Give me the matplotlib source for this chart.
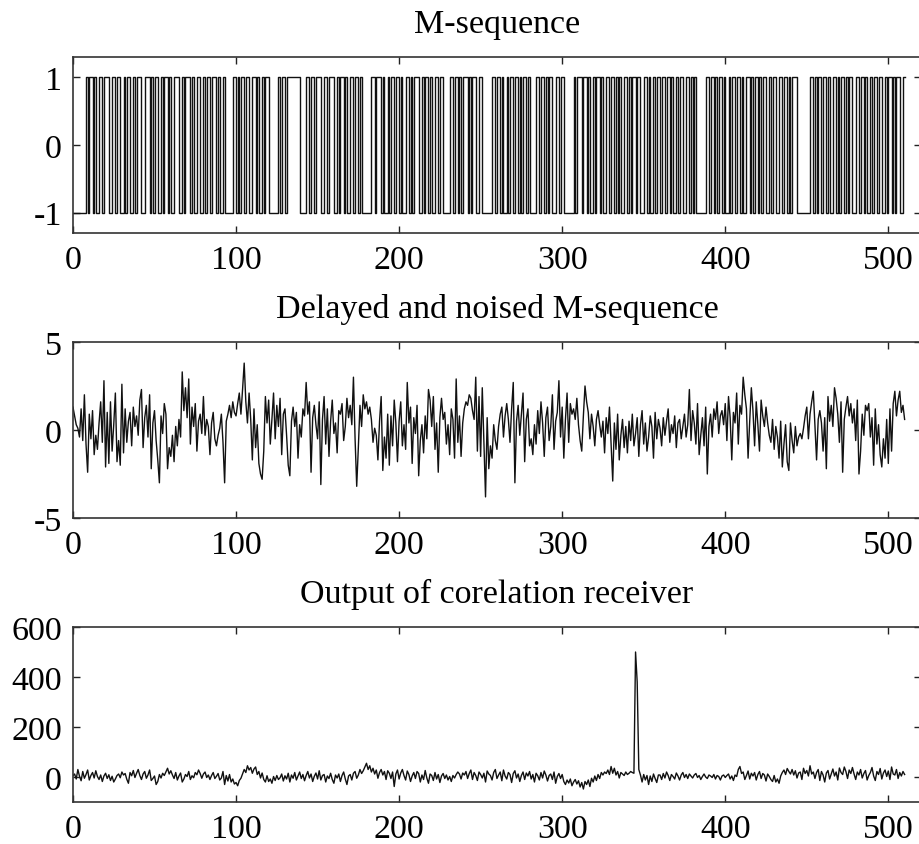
import matplotlib
matplotlib.use("Agg")
import matplotlib.pyplot as plt

# chip pattern of the M-sequence ("1" -> +1, "0" -> -1)
MSEQ_BITS = (
    "0000000010" "1101001101" "1100110110" "0101100101" "1100111010"
    "1100101101" "0011100101" "1101001100" "1011011101" "0010000011"
    "0101101100" "1101001011" "0000001011" "0111111110" "0001101101"
    "1100110111" "0010110100" "1101101000" "0001101110" "1001011011"
    "0100110101" "1100101101" "0011011000" "0110110101" "1101011001"
    "1000000110" "1101001011" "0110101101" "0000110110" "1011001101"
    "1000000101" "1101101001" "0110100110" "1101010011" "0101101100"
    "1101001011" "0110110100" "1011001101" "0100000011" "0110101101"
    "0010110110" "1001101011" "0101100101" "1001101101" "0111000000"
    "0011010110" "1101001101" "0110101100" "1101101001" "0110110010"
    "11010110011"
)

noised = [
    1.3, 0.8, 0.3, 0.1, -0.4, 1.2, -0.6, 2.0, -0.8, -2.4, 0.9, -0.5, 1.1, -1.4, -0.3, -1.1, 0.4, 1.6, -0.7, 2.8,
    -2.1, 1.0, -1.9, 1.6, -1.2, 0.3, 2.1, -1.8, -0.6, -2.0, 2.6, -1.3, 1.2, -0.7, 0.5, 1.0, -0.9, 1.3, 0.2, 0.8,
    -0.3, 1.7, 2.3, -1.0, 0.7, 1.4, -0.4, 2.0, -2.2, 0.4, 1.1, -0.6, -1.7, -3.0, 0.8, -0.2, 1.5, 0.9, -2.2, -1.0,
    -1.5, -0.3, -1.8, 0.2, -0.9, 0.6, -0.4, 3.3, 1.1, 2.4, 0.7, 2.9, -0.8, 1.3, 0.2, 1.5, -1.2, 0.5, 0.9, -0.2,
    1.9, -0.3, 0.6, 0.2, -1.4, 0.4, 1.0, -0.5, -0.9, -0.3, 0.1, 0.9, -0.7, -3.0, 0.5, 0.9, 1.4, 0.7, 1.6, 1.0,
    0.8, 1.5, 2.1, 0.9, 2.3, 3.8, 1.6, 0.4, 2.1, 0.6, -1.7, 1.2, -1.0, 0.3, -1.9, -2.5, -2.8, -1.2, 1.9, 0.4,
    1.7, -0.8, 0.6, 2.1, -0.5, 1.4, 0.2, 1.8, -1.4, 0.9, 1.2, -0.3, -2.0, -2.6, 0.5, 1.3, 0.2, 1.0, -1.6, 0.3,
    -0.4, 1.2, 0.8, 2.7, 0.9, 1.6, -2.4, 0.7, 1.4, 0.3, -0.5, 1.6, -3.1, 0.6, 1.9, -0.8, 1.2, -1.5, 0.5, 1.7,
    -0.2, 0.4, -1.3, 1.1, 0.9, 1.5, -0.6, 0.2, 1.8, 0.7, 1.4, 0.3, 3.0, -0.5, -3.2, -1.0, 1.4, 0.2, 2.0, 1.2,
    1.6, 0.9, 1.3, 0.6, -0.7, 0.1, -0.3, -1.7, 0.5, 1.9, -2.3, -0.4, -1.6, 0.9, -2.0, 0.8, -0.9, 1.7, 0.4, -1.8,
    0.5, 1.6, -0.9, 0.3, -1.1, 2.7, 0.4, 1.3, -1.9, 0.7, -0.2, 1.4, -2.6, -0.6, 0.3, -1.3, 0.8, -0.5, 2.3, 1.7,
    0.2, 1.9, -1.1, 0.4, -2.4, 0.7, 1.8, 0.6, 1.0, -0.8, 0.3, -1.4, 1.2, 0.6, -1.6, 2.9, -0.7, 0.8, -1.5, 0.4,
    1.2, 1.6, 1.4, 2.0, 1.8, 1.1, 0.6, 3.0, -1.2, 1.9, -1.5, 2.4, -0.8, -3.8, 0.7, -2.2, -0.9, -1.6, 0.3, -0.6,
    -1.1, 0.2, 0.9, 1.3, -0.4, 0.8, 1.5, 0.6, -0.7, 1.2, 2.7, -3.0, 0.5, 1.4, -0.3, 0.9, 2.1, -1.8, 0.6, 1.2,
    -0.9, -0.5, -1.4, 0.3, -0.8, 1.1, -0.2, 1.6, 0.4, -1.5, 0.7, 1.3, -0.6, 0.2, 2.0, -1.1, 0.5, 1.0, 2.8, -0.4,
    1.3, -1.6, 0.6, 2.1, -0.7, 1.5, 0.9, 1.2, 0.6, 1.8, 0.3, -0.6, -1.2, 0.8, 2.5, 1.6, 1.0, -0.5, 0.9, 0.2,
    -0.9, 0.6, 1.1, 0.3, -0.4, 0.5, -1.3, 0.7, -0.2, 1.3, -0.8, -2.9, 0.4, -1.1, 0.9, -1.7, -0.3, 0.6, -1.0, 0.2,
    -1.3, 0.5, -0.6, 0.9, -0.9, -0.2, 0.7, -1.5, 0.3, 1.1, -0.8, 0.4, -1.2, -0.4, 0.8, 0.2, -1.6, 1.0, -0.5, 0.6,
    0.1, -0.9, 0.7, -0.3, 0.5, 1.2, -0.7, 0.3, -0.2, 0.8, -1.0, 0.4, 0.6, -0.5, 0.2, 0.9, -0.4, 0.3, 2.3, -0.6,
    1.1, 0.4, -0.8, 1.5, -1.4, -0.3, 0.7, -0.9, 1.3, -2.5, 0.2, 0.9, -0.4, 1.2, 0.6, 1.6, -0.2, 0.8, 1.1, 0.3,
    1.5, -0.6, 1.9, 0.7, -1.7, 1.0, 0.4, 2.1, -0.8, 1.4, 0.9, 3.0, 2.0, 1.2, -1.6, 0.5, 2.4, 1.1, -0.9, 1.6,
    0.3, -1.2, 1.7, 0.8, 0.2, 1.3, 0.4, -0.3, -0.7, 0.6, -1.1, 0.2, -0.4, -1.6, 0.5, -2.1, -0.8, 0.3, -1.8, -2.3,
    0.4, -0.6, -1.3, 0.2, -0.9, -0.4, -0.2, -0.5, 0.1, 0.8, 1.3, -0.5, 0.9, 1.6, 2.2, 0.3, -1.7, 0.6, 1.1, 0.4,
    -1.2, 0.7, -2.2, 1.9, 0.5, 1.4, 0.2, 2.4, 1.8, 0.9, -0.7, 1.6, -2.4, 0.6, 1.3, 1.9, 0.8, 1.5, 0.4, 1.2,
    -0.6, 1.7, -2.5, -1.2, 0.9, -0.3, 1.4, 1.1, 1.5, -0.4, 0.7, -2.0, 1.2, -0.8, 0.3, -1.4, -2.1, -0.5, -1.6, 0.6,
    -1.9, 1.2, -1.2, 1.5, 2.2, 0.8, 1.7, 2.2, 1.0, 1.4, 0.6,
]

correlation = [
    5, 12, -8, 30, 3, -15, 22, -5, 10, 28, -12, 6, 18, -4, 25, 2, -10, 8, -18, 4,
    15, -6, 9, -14, 3, -20, -8, 6, 12, -3, 20, 8, 14, -9, -25, 18, 5, 26, -2, 15,
    30, 6, -10, 12, 22, -5, 8, 28, -14, -6, 4, -30, -18, 10, -4, 15, 6, 20, 35, 12,
    25, 8, -6, 18, -12, 4, 16, -20, -8, 10, 2, 22, -10, 5, -3, 18, 9, 28, 14, -5,
    12, 20, -2, 8, -10, 6, 18, -6, 3, 14, -12, -4, 22, -30, 6, -16, 10, -20, -8, -28,
    -22, -35, -14, -5, 12, 30, 18, 45, 28, 38, 15, 32, 40, 10, 22, -4, 16, -10, -20, 5,
    -18, -8, -25, 2, -14, 6, -10, -3, 12, -16, 5, -8, 15, -20, 8, -5, 18, -12, 4, 20,
    -6, 10, -15, 6, 22, -4, 12, -18, 3, 16, -8, 25, -12, 6, 10, -20, 4, -6, 15, -10,
    -25, 8, -4, 12, -18, 6, 20, -8, -30, 4, 10, -12, 15, 22, -5, 8, 30, 14, 25, 40,
    55, 30, 45, 20, 35, 12, 28, -5, 18, 30, 8, 22, -10, 25, 15, -6, 20, -38, 12, 28,
    -8, 16, 30, 6, -12, 24, 10, -18, 4, 18, -6, 22, 14, -20, 8, -10, 26, -4, -25, 12,
    6, -14, 18, -8, 10, -22, 4, 14, -6, 8, -12, 2, -18, 6, -4, 10, 20, 12, -8, 16,
    8, 22, -6, 14, 28, -10, 18, 6, -14, 20, 10, -4, 15, -20, 24, 12, 6, -12, 18, 30,
    -6, 8, 20, -15, 28, 4, -8, 18, 10, -22, 14, 25, -4, 12, -18, 6, 20, -10, 16, 4,
    22, -8, 10, -20, 15, 5, -12, 18, -4, 24, 8, -16, 6, 12, -10, 20, -25, 2, 14, -6,
    10, -18, -30, -12, -24, -8, -35, -20, -10, -28, -15, -40, -22, -48, -18, -30, -12, -38, -5, -20,
    4, -14, 10, -6, 18, 8, 20, 14, 28, 10, 42, 15, 35, 8, 22, -4, 18, 12, 6, 20,
    10, 15, 22, 18, 15, 500, 380, 30, 8, -20, 10, -12, 6, -30, 4, -18, 12, -6, -22, 8,
    8, -10, 14, -4, 20, 6, -14, 10, 2, -8, 16, 4, -12, 8, 18, -2, 10, -6, 12, 4,
    -4, 8, 14, -2, 6, -10, 2, 12, 0, -6, 8, 4, -2, 10, -8, 6, 2, -12, 4, 8,
    -2, 6, 12, -8, 4, -14, 8, 2, 30, 42, 14, 20, -10, 6, 24, -8, 15, 4, 18, -12,
    10, 22, -6, 14, 8, -16, 12, 2, -10, -18, 6, -20, -8, -25, 4, 18, 28, 10, 34, 22,
    12, 30, 8, 25, -4, 16, 20, -10, 35, 14, 26, 4, 45, 12, 20, -6, 18, 30, -14, 22,
    8, -20, 16, 26, -8, 12, 32, 4, 20, -12, 36, 18, 10, 40, 22, -6, 28, 14, 38, 12,
    -10, 20, 8, 30, -4, 14, 26, -12, 6, 18, 38, 4, -14, 22, 10, 34, -8, 16, 28, 2,
    24, -10, 40, 12, 8, 30, -6, 18, 4, 22, 10,
]

titles = ["M-sequence", "Delayed and noised M-sequence", "Output of corelation receiver"]
xticks = [0, 100, 200, 300, 400, 500]
yticks = [[-1, 0, 1], [-5, 0, 5], [0, 200, 400, 600]]
ylims = [(-1.3, 1.3), (-5, 5), (-100, 600)]

mseq = [1 if b == "1" else -1 for b in MSEQ_BITS]

plt.rcParams["font.family"] = ["Liberation Serif", "DejaVu Serif"]
plt.rcParams["font.size"] = 24.5
plt.rcParams["axes.unicode_minus"] = False

fig = plt.figure(figsize=(9.19, 8.45), dpi=100)
fig.patch.set_facecolor("white")

left, width = 0.0794, 0.9227
boxes = [
    [left, 0.7231, width, 0.2083],
    [left, 0.3858, width, 0.2083],
    [left, 0.0497, width, 0.2071],
]
axes = [fig.add_axes(b) for b in boxes]

axes[0].step(range(len(mseq)), mseq, where="post", color="#111111", lw=1.0)
axes[1].plot(range(len(noised)), noised, color="#111111", lw=1.0)
axes[2].plot(range(len(correlation)), correlation, color="#111111", lw=1.0)

for ax, title, yt, yl in zip(axes, titles, yticks, ylims):
    ax.set_xlim(0, 520)
    ax.set_ylim(*yl)
    ax.set_xticks(xticks)
    ax.set_yticks(yt)
    ax.set_title(title, pad=18, fontsize=24.5)
    ax.tick_params(direction="in", length=5, width=1, top=True, right=True,
                   colors="#222222", labelcolor="black")
    ax.tick_params(axis="x", pad=8)
    ax.tick_params(axis="y", pad=8)
    for s in ax.spines.values():
        s.set_linewidth(1.2)
        s.set_color("#333333")

fig.savefig("out.png", dpi=100, facecolor="white")
